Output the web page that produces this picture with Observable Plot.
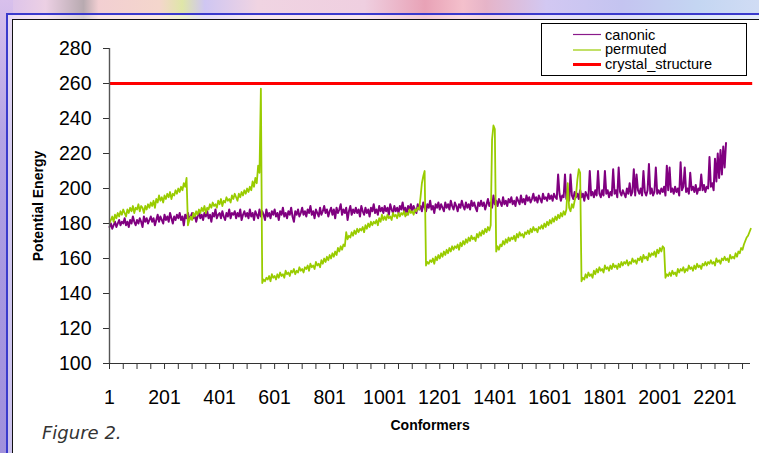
<!DOCTYPE html>
<html><head><meta charset="utf-8">
<script src="https://cdn.jsdelivr.net/npm/d3@7"></script>
<script src="https://cdn.jsdelivr.net/npm/@observablehq/plot@0.6"></script>
<style>
html,body{margin:0;padding:0;width:759px;height:453px;overflow:hidden;background:#fff;}
#bgTop{position:absolute;left:0;top:0;width:759px;height:20px;
 background:linear-gradient(90deg,#d8c0ec 0%,#ecd0e4 6%,#b8aab0 11%,#f2cfd2 13%,#f4d6cc 21%,#dfe6a8 24%,#cfc6f2 27%,#f0d4e2 34%,#efcfe0 48%,#e8a2b6 56%,#f4c0cc 61%,#e6b4c8 64%,#d2c8f2 72%,#c4c4f0 82%,#c4d6f2 92%,#d0dcf4 100%);}
#bgLeft{position:absolute;left:0;top:0;width:13px;height:453px;
 background:linear-gradient(180deg,#d8c0ec 0%,#b4a4e4 30%,#a898e0 60%,#a090dc 100%);}
#blueFrame{position:absolute;left:6px;top:13px;width:760px;height:450px;border-left:2px solid #3a3acc;border-top:2px solid #3a3acc;background:rgba(255,255,255,0.45);}
#blackFrame{position:absolute;left:12px;top:19px;width:760px;height:450px;border-left:1px solid #111;border-top:1px solid #111;background:#fff;}
#chart{position:absolute;left:0;top:0;}
#overlay{position:absolute;left:0;top:0;}
</style></head><body>
<div id="bgTop"></div>
<div id="bgLeft"></div>
<div id="blueFrame"></div>
<div id="blackFrame"></div>
<div id="chart"></div>
<svg id="overlay" width="759" height="453">
  <rect x="541.5" y="23.5" width="205" height="52" fill="#fff" stroke="#000" stroke-width="1"/>
  <line x1="573" x2="601" y1="34.5" y2="34.5" stroke="#8a1a8a" stroke-width="1.2"/>
  <line x1="573" x2="601" y1="50" y2="50" stroke="#99cc00" stroke-width="1.2"/>
  <line x1="573" x2="601" y1="64.5" y2="64.5" stroke="#ff0000" stroke-width="3"/>
  <g font-family="'Liberation Sans', Arial, sans-serif" font-size="14.6" fill="#000">
    <text x="605" y="39.5">canonic</text>
    <text x="605" y="54.3">permuted</text>
    <text x="605" y="69">crystal_structure</text>
  </g>
  <text x="42" y="439" font-family="'DejaVu Sans', Verdana, sans-serif" font-style="italic" font-size="18" fill="#333">Figure 2.</text>
</svg>
<script>
// sampling interval (conformers) of the series below
const step = 5;

// canonic series: conformer 1, 6, 11, ... 2241
const canonic = [
178,180,177,179,181,178,180,182,179,181,
180,183,179,181,178,182,180,184,181,179,
182,180,183,181,178,184,181,183,180,182,
184,181,183,179,182,185,181,184,182,180,
185,182,184,181,186,183,180,184,182,185,
183,186,182,184,179,185,183,186,182,184,
186,183,185,181,184,187,183,185,182,186,
184,187,183,185,181,186,184,188,183,185,
186,183,187,184,182,186,184,188,183,186,
185,187,183,186,184,188,182,185,187,184,
186,183,188,184,186,182,187,185,183,188,
184,187,185,182,188,184,186,183,187,185,
188,184,186,182,187,185,189,184,186,183,
187,185,189,184,181,187,185,188,184,186,
189,185,187,184,188,186,190,185,187,183,
188,186,184,189,185,187,190,186,188,184,
187,189,185,188,183,189,186,188,191,185,
188,186,189,182,187,190,185,188,186,189,
186,188,184,190,187,185,189,186,188,184,
189,187,191,186,188,185,190,187,189,186,
190,187,189,185,191,188,186,190,187,189,
186,190,188,192,187,189,185,190,188,191,
187,190,188,186,191,188,190,187,192,189,
187,191,189,193,188,190,186,191,189,192,
188,191,189,187,192,189,191,188,193,190,
188,192,190,187,191,189,193,190,188,192,
189,191,188,193,190,192,189,187,192,190,
193,190,192,188,191,194,190,192,189,196,
191,193,190,194,192,190,195,191,193,190,
194,192,195,191,193,190,195,193,191,196,
192,194,191,196,193,195,192,194,197,193,
195,192,196,194,192,197,194,195,193,197,
194,196,193,197,195,194,208,197,193,196,
195,208,194,197,193,208,196,194,198,195,
197,194,199,195,197,193,198,196,194,210,
196,198,195,199,196,210,197,195,199,196,
210,197,199,195,198,196,211,197,199,195,
212,198,196,199,197,195,200,197,203,196,
198,211,196,208,199,197,200,196,210,198,
196,199,214,197,200,196,198,212,197,199,
197,200,198,201,196,213,199,212,198,200,
197,201,198,200,196,215,199,201,212,198,
200,197,209,199,201,198,202,197,200,199,
208,199,202,198,201,200,218,201,203,199,
217,204,220,206,222,208,224,212,226
];

// permuted series: conformer 1, 6, 11, ... 2331
const permuted = [
180,182,184,181,185,183,186,184,187,185,
188,186,184,188,186,189,187,190,186,189,
188,191,187,190,189,186,190,188,191,189,
192,190,193,189,194,192,196,193,195,192,
196,194,197,195,198,194,197,196,199,197,
200,198,201,199,203,201,206,
179,182,184,182,186,184,187,185,188,186,
189,187,190,186,189,188,191,189,192,190,
191,189,193,191,194,190,193,192,195,193,
194,192,196,194,197,195,193,197,195,198,
196,199,197,200,198,201,199,204,201,206,
203,213,209,257,
146,148,147,149,148,150,147,151,149,150,
148,151,149,152,150,151,149,153,151,152,
150,153,152,154,151,153,152,155,153,154,
152,155,154,156,153,157,155,156,154,158,
156,157,155,159,157,160,158,161,159,162,
160,163,161,164,162,166,164,167,165,168,
167,175,171,173,172,175,173,176,174,177,
175,177,176,178,175,179,177,180,178,181,
179,181,180,182,179,183,181,185,182,184,
182,185,183,184,182,186,184,185,183,186,
184,186,185,187,184,186,185,188,186,187,
185,188,187,189,188,195,203,207,210,
156,158,157,159,158,160,157,161,159,162,
160,163,161,164,162,165,163,166,164,167,
165,167,166,168,165,169,167,170,168,171,
169,172,170,173,171,172,170,174,172,175,
173,176,174,177,175,178,176,179,228,236,
234,
164,167,165,168,167,170,168,171,169,172,
170,172,171,173,170,174,172,175,173,174,
172,175,174,176,174,177,175,178,176,177,
175,178,177,179,177,180,178,181,179,182,
180,183,181,184,182,185,183,186,184,187,
185,188,203,189,187,191,189,193,196,205,
211,209,
147,149,148,151,149,152,150,151,149,153,
151,154,152,155,153,154,152,156,154,155,
153,156,154,157,155,156,154,157,155,158,
156,158,157,159,156,158,157,160,158,159,
157,160,159,161,158,162,160,161,159,163,
161,163,162,164,161,165,163,166,164,167,
166,
149,151,150,152,150,153,151,152,150,154,
152,154,153,155,152,154,153,156,154,155,
153,156,154,157,155,156,154,157,156,158,
156,158,157,159,157,158,156,160,158,159,
157,160,159,161,159,160,158,162,160,161,
160,163,161,164,163,166,165,168,170,172,
173,175,177
];

// crystal structure reference energy
const crystalStructure = 260;

// axis ticks
const yTicks = [100,120,140,160,180,200,220,240,260,280];
const xLabelTicks = [1,201,401,601,801,1001,1201,1401,1601,1801,2001,2201];
const xMinorTicks = d3.range(1, 2330, 50);
const xDomain = [1, 2330];
const lastConformer = 2338;

const canonicRows = canonic.map((v, i) => ({conformer: 1 + i * step, energy: v}));
const permutedRows = permuted.map((v, i) => ({conformer: 1 + i * step, energy: v}));

const chart = Plot.plot({
  width: 759,
  height: 453,
  marginLeft: 109,
  marginRight: 9,
  marginTop: 48,
  marginBottom: 90,
  style: {background: "transparent", fontFamily: "'Liberation Sans', Arial, sans-serif", fontSize: "19.5px", color: "#000", overflow: "visible"},
  x: {domain: xDomain},
  y: {domain: [100, 280]},
  marks: [
    Plot.lineY(canonicRows, {x: "conformer", y: "energy", stroke: "#800080", strokeWidth: 2}),
    Plot.lineY(permutedRows, {x: "conformer", y: "energy", stroke: "#99cc00", strokeWidth: 1.8}),
    Plot.ruleY([crystalStructure], {x1: 1, x2: lastConformer, stroke: "#ff0000", strokeWidth: 3}),
    Plot.ruleX([1], {y1: 100, y2: 280, stroke: "#555", strokeWidth: 1.4}),
    Plot.ruleY([100], {x1: 1, x2: xDomain[1], stroke: "#333", strokeWidth: 1.2}),
    Plot.axisY(yTicks, {tickSize: 6, tickFormat: () => "", label: null, stroke: "#333"}),
    Plot.axisY(yTicks, {tickSize: 0, tickPadding: 18, label: null, fill: "#000", fontSize: 19.5}),
    Plot.axisX(xMinorTicks, {tickSize: 6, tickFormat: () => "", label: null, stroke: "#333"}),
    Plot.axisX(xLabelTicks, {tickSize: 0, tickPadding: 27, label: null, fill: "#000", fontSize: 19.5, tickFormat: d => String(d)}),
    Plot.text(["Potential Energy"], {x: 1, y: 190, dx: -71, rotate: -90, fontWeight: "bold", fontSize: 14, fill: "#000"}),
    Plot.text(["Conformers"], {x: 1166, frameAnchor: "bottom", dy: 66, fontWeight: "bold", fontSize: 14, fill: "#000"})
  ]
});
document.getElementById("chart").appendChild(chart);
</script>
</body></html>
